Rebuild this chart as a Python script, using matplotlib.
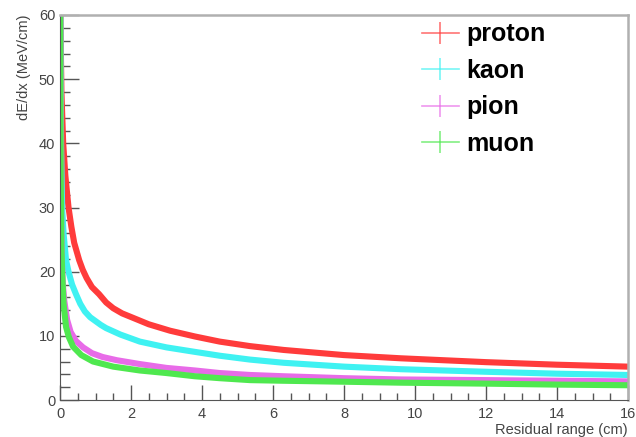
import matplotlib
matplotlib.use("Agg")
import matplotlib.pyplot as plt
from matplotlib.lines import Line2D
from matplotlib.ticker import MultipleLocator

# dE/dx vs residual range
proton_x = [0.01, 0.04, 0.09, 0.15, 0.24, 0.32, 0.4, 0.54, 0.64, 0.75, 0.9, 1.1, 1.3, 1.5, 1.75, 2.06, 2.5, 3.1, 3.8, 4.5, 5.35, 6.3, 8.0, 9.6, 12.0, 14.0, 16.0]
proton_y = [60.0, 48.0, 40.0, 35.0, 30.0, 27.0, 24.5, 21.8, 20.3, 19.0, 17.6, 16.5, 15.2, 14.3, 13.5, 12.8, 11.8, 10.8, 9.9, 9.1, 8.4, 7.8, 7.0, 6.5, 5.9, 5.5, 5.2]

kaon_x = [0.01, 0.03, 0.06, 0.1, 0.17, 0.24, 0.34, 0.45, 0.57, 0.7, 0.85, 1.0, 1.15, 1.3, 1.7, 2.25, 3.0, 3.8, 4.5, 5.35, 6.3, 8.0, 9.6, 12.0, 14.0, 16.0]
kaon_y = [60.0, 40.0, 30.0, 26.0, 21.8, 20.0, 18.0, 16.5, 15.0, 13.8, 12.9, 12.3, 11.7, 11.2, 10.2, 9.1, 8.2, 7.5, 6.9, 6.3, 5.8, 5.2, 4.8, 4.4, 4.1, 3.9]

pion_x = [0.01, 0.03, 0.05, 0.08, 0.12, 0.2, 0.3, 0.45, 0.65, 0.9, 1.2, 1.6, 2.25, 3.0, 3.8, 4.5, 5.35, 6.3, 8.0, 9.6, 12.0, 14.0, 16.0]
pion_y = [60.0, 30.0, 22.0, 18.0, 15.5, 12.5, 10.6, 9.2, 8.2, 7.3, 6.7, 6.2, 5.6, 5.0, 4.6, 4.2, 3.9, 3.7, 3.4, 3.2, 3.1, 3.0, 2.9]

muon_x = [0.005, 0.02, 0.04, 0.06, 0.1, 0.17, 0.25, 0.37, 0.6, 0.93, 1.5, 2.25, 3.0, 3.8, 4.5, 5.35, 6.3, 8.0, 9.6, 12.0, 14.0, 16.0]
muon_y = [60.0, 35.0, 24.0, 20.0, 15.0, 11.4, 9.8, 8.3, 7.0, 6.0, 5.2, 4.6, 4.2, 3.7, 3.4, 3.1, 3.0, 2.85, 2.7, 2.55, 2.4, 2.3]

labels = ['proton', 'kaon', 'pion', 'muon']
colors = ['#ff3b3b', '#3ff2f2', '#e86be8', '#4fe84f']

plt.rcParams['font.family'] = ['Liberation Sans', 'DejaVu Sans']

fig = plt.figure(figsize=(6.36, 4.37), dpi=100)
ax = fig.add_axes([60 / 636, 1 - 400 / 437, 568 / 636, 385 / 437])

series = [(proton_x, proton_y), (kaon_x, kaon_y), (pion_x, pion_y), (muon_x, muon_y)]
for (xs, ys), c in zip(series, colors):
    ax.plot(xs, ys, color=c, lw=4.4, solid_capstyle='butt', solid_joinstyle='round')

ax.set_xlim(0, 16)
ax.set_ylim(0, 60)

ax.xaxis.set_major_locator(MultipleLocator(2))
ax.xaxis.set_minor_locator(MultipleLocator(0.5))
ax.yaxis.set_major_locator(MultipleLocator(10))
ax.yaxis.set_minor_locator(MultipleLocator(2))
ax.tick_params(which='both', direction='in', colors='#555555', labelcolor='#444444', labelsize=10.5)
ax.tick_params(axis='y', which='major', length=14, width=1)
ax.tick_params(axis='y', which='minor', length=7, width=1)
ax.tick_params(axis='x', which='major', length=11, width=1, pad=5)
ax.tick_params(axis='x', which='minor', length=5, width=1)

for side in ['left', 'bottom']:
    ax.spines[side].set_color('#555555')
for side in ['top', 'right']:
    ax.spines[side].set_color('#b0b0b0')
    ax.spines[side].set_linewidth(1.8)

ax.set_xlabel('Residual range (cm)', fontsize=10.5, color='#444444')
ax.xaxis.set_label_coords(1.0, -0.078)
ax.xaxis.label.set_ha('right')
ax.xaxis.label.set_va('center')
ax.set_ylabel('dE/dx (MeV/cm)', fontsize=10.5, color='#444444')
ax.yaxis.set_label_coords(-0.075, 1.0)
ax.yaxis.label.set_va('top')
ax.yaxis.label.set_ha('right')

handles = [Line2D([], [], color=c, alpha=0.7, lw=1.2, marker='|', markersize=16, markeredgewidth=1.2) for c in colors]
leg = ax.legend(handles, labels, loc='upper left', bbox_to_anchor=(0.629, 0.994), frameon=False,
                prop={'weight': 'bold', 'size': 18}, handlelength=1.45, handletextpad=0.3,
                labelspacing=0.5, borderaxespad=0.0, borderpad=0.2)

fig.savefig('out.png', dpi=100)
